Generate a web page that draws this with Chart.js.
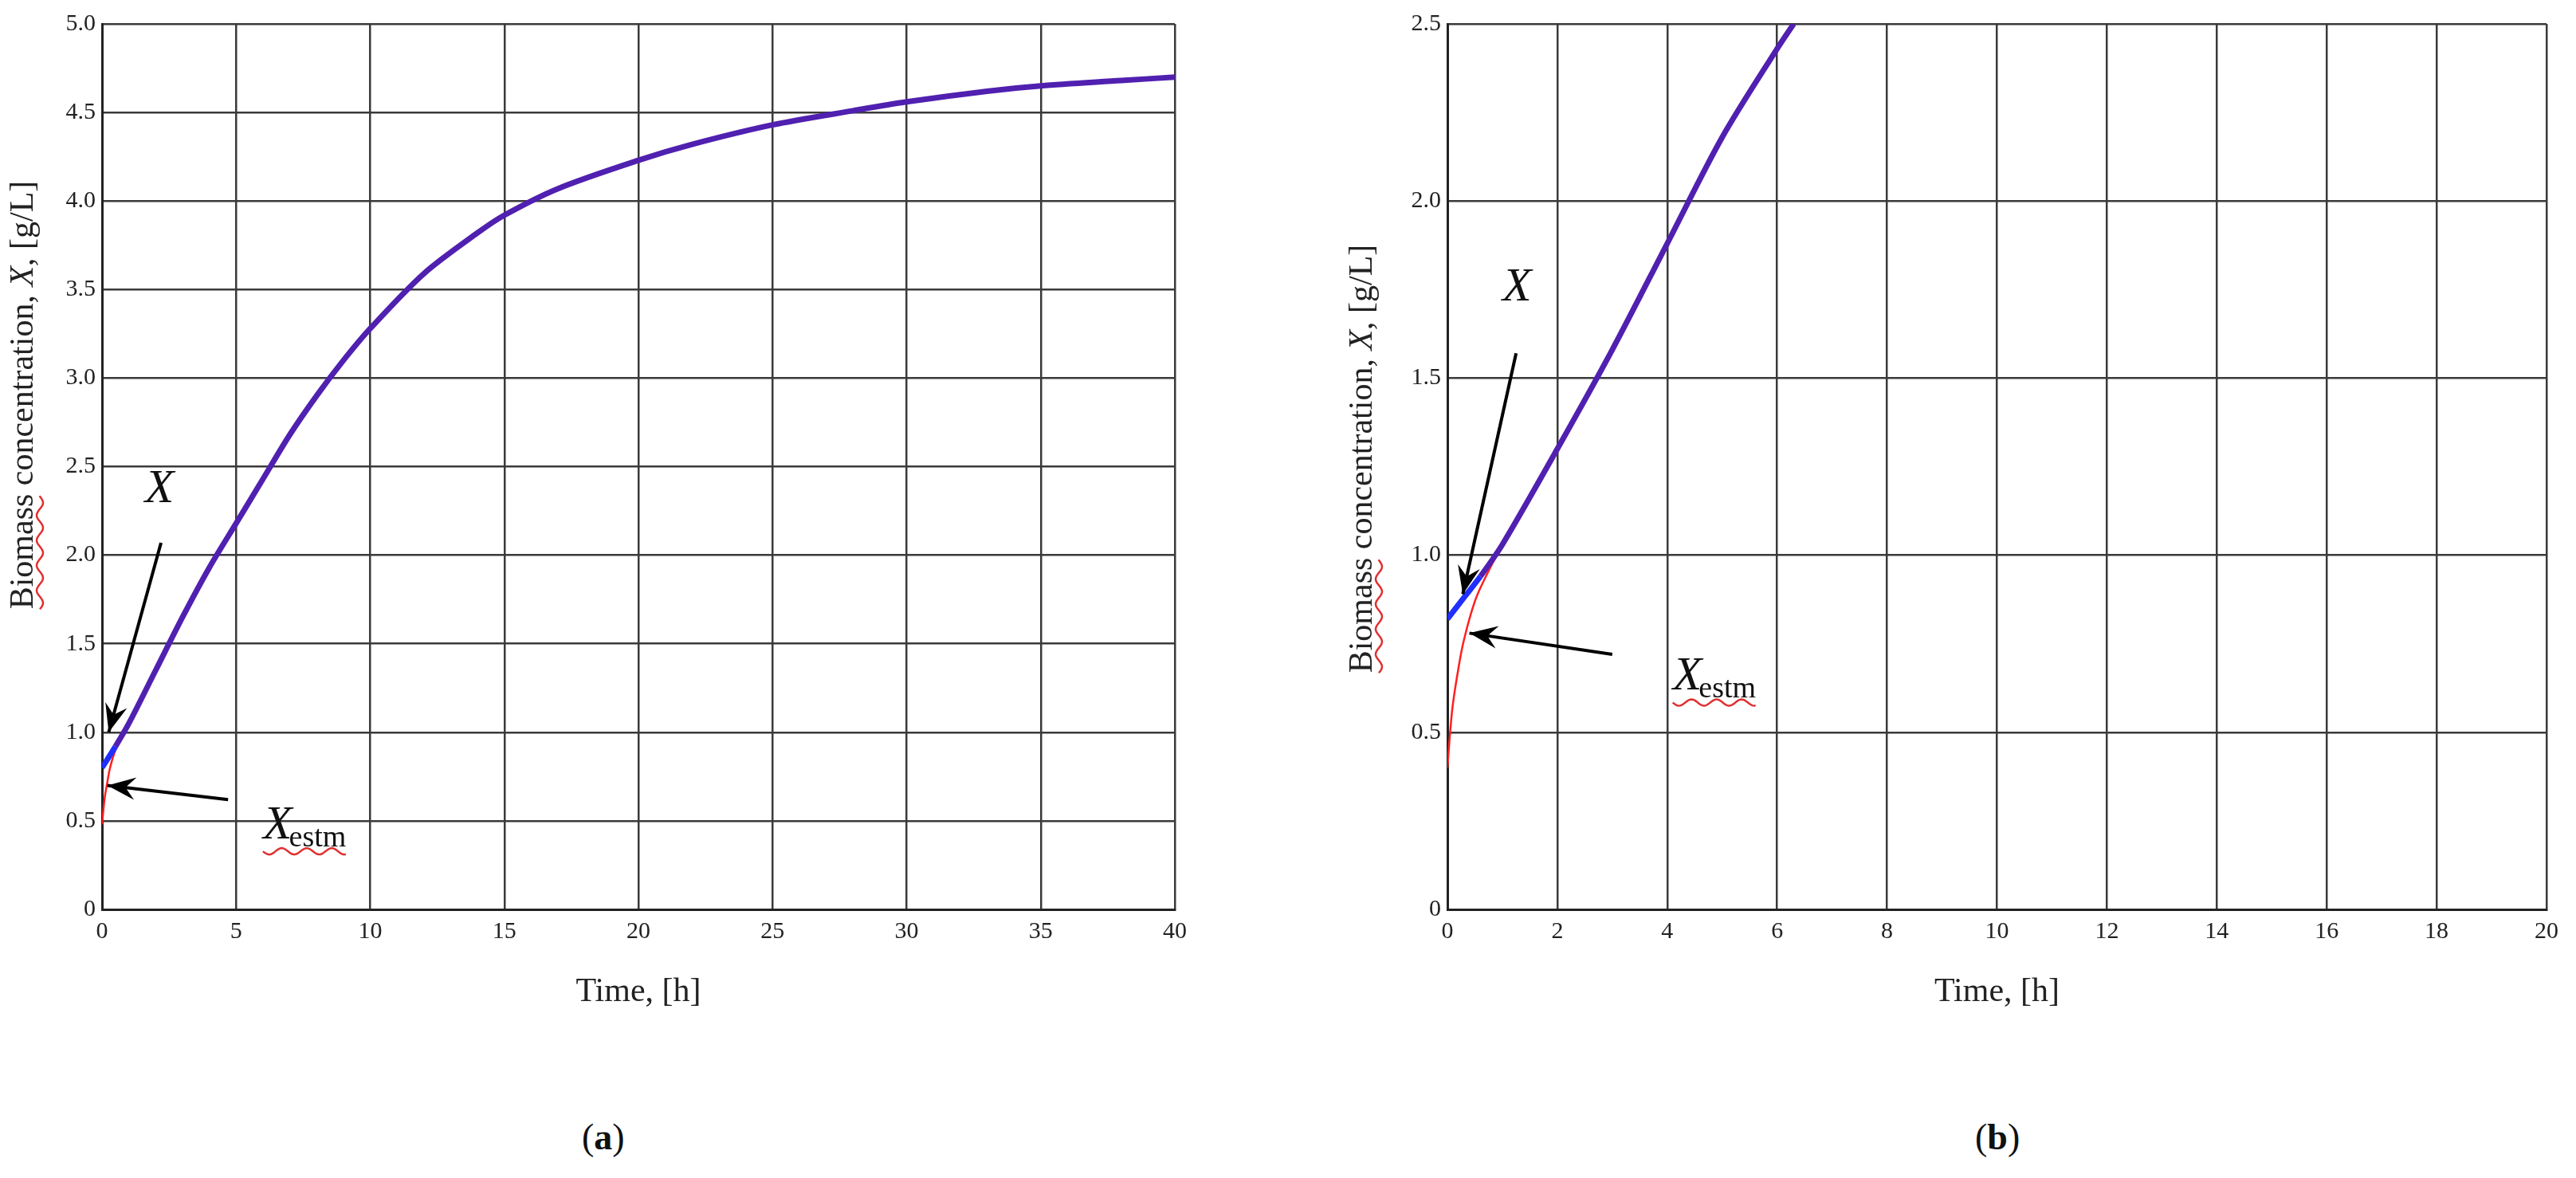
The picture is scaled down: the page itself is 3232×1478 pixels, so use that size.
<!DOCTYPE html>
<html><head><meta charset="utf-8">
<script src="https://cdn.jsdelivr.net/npm/chart.js@4"></script>
<style>
body{margin:0;background:#fff;width:3232px;height:1478px;position:relative;overflow:hidden;font-family:"Liberation Serif",serif}
.box{position:absolute;top:0;height:1300px}
.lab{position:absolute;font-size:46px;color:#111}
</style></head><body>
<div class="box" style="left:0;width:1500px"><canvas id="ca" width="1500" height="1300"></canvas></div>
<div class="box" style="left:1688px;width:1544px"><canvas id="cb" width="1544" height="1300"></canvas></div>
<div class="lab" style="left:730px;top:1400px">(<b>a</b>)</div>
<div class="lab" style="left:2478px;top:1400px">(<b>b</b>)</div>
<script>
// panel (a)
const timeA = [0,0.5,1,2,3,4,5,6,7,8,9,10,12,14,15,17,20,22,25,28,30,33,35,38,40];
const xA    = [0.8,0.92,1.05,1.35,1.65,1.93,2.18,2.43,2.68,2.9,3.1,3.28,3.59,3.82,3.92,4.07,4.23,4.32,4.43,4.51,4.56,4.62,4.65,4.68,4.7];
const timeEstA = [0,0.05,0.1,0.2,0.3,0.5,0.8,1];
const xEstA    = [0.48,0.56,0.63,0.72,0.8,0.9,1.0,1.05];
const yTicksA = [0,0.5,1,1.5,2,2.5,3,3.5,4,4.5,5];
const xTicksA = [0,5,10,15,20,25,30,35,40];
// panel (b)
const timeB = [0,0.3,0.6,1,2,3,4,5,6,6.3];
const xB    = [0.82,0.88,0.94,1.03,1.3,1.58,1.88,2.18,2.43,2.5];
const timeEstB = [0,0.05,0.1,0.2,0.3,0.5,0.7,1];
const xEstB    = [0.4,0.5,0.58,0.68,0.76,0.87,0.94,1.03];
const yTicksB = [0,0.5,1,1.5,2,2.5];
const xTicksB = [0,2,4,6,8,10,12,14,16,18,20];

const pts=(t,v)=>t.map((x,i)=>({x,y:v[i]}));
function arrow(ctx,x1,y1,x2,y2){
  ctx.save();ctx.strokeStyle='#000';ctx.fillStyle='#000';ctx.lineWidth=4;
  ctx.beginPath();ctx.moveTo(x1,y1);ctx.lineTo(x2,y2);ctx.stroke();
  const a=Math.atan2(y2-y1,x2-x1),L=38,W=0.38;
  ctx.beginPath();ctx.moveTo(x2,y2);
  ctx.lineTo(x2-L*Math.cos(a-W),y2-L*Math.sin(a-W));
  ctx.lineTo(x2-L*0.6*Math.cos(a),y2-L*0.6*Math.sin(a));
  ctx.lineTo(x2-L*Math.cos(a+W),y2-L*Math.sin(a+W));
  ctx.closePath();ctx.fill();ctx.restore();
}
function wavy(ctx,x1,x2,y){
  ctx.save();ctx.strokeStyle='#e03030';ctx.lineWidth=2.5;ctx.beginPath();
  for(let x=x1;x<=x2;x+=2){const yy=y+4*Math.sin((x-x1)/5);x===x1?ctx.moveTo(x,yy):ctx.lineTo(x,yy);}
  ctx.stroke();ctx.restore();
}
function make(id,cfg){
  const ann={id:'ann',afterDraw(ch){
    const c=ch.ctx,sx=ch.scales.x,sy=ch.scales.y,P=(x,y)=>[sx.getPixelForValue(x),sy.getPixelForValue(y)];
    c.save();
    let p=P(...cfg.xLab);c.font='italic 60px "Liberation Serif"';c.fillStyle='#111';c.textBaseline='alphabetic';c.fillText('X',p[0],p[1]);
    let a=P(...cfg.xArr[0]),b=P(...cfg.xArr[1]);arrow(c,a[0],a[1],b[0],b[1]);
    a=P(...cfg.eArr[0]);b=P(...cfg.eArr[1]);arrow(c,a[0],a[1],b[0],b[1]);
    p=P(...cfg.eLab);c.font='italic 60px "Liberation Serif"';c.fillText('X',p[0],p[1]);
    const w=c.measureText('X').width;c.font='38px "Liberation Serif"';c.fillText('estm',p[0]+w-4,p[1]+10);
    wavy(c,p[0],p[0]+w-4+c.measureText('estm').width,p[1]+16);
    c.restore();
    c.save();
    c.translate(cfg.yTitleX,(ch.chartArea.top+ch.chartArea.bottom)/2+cfg.yTitleDy);c.rotate(-Math.PI/2);
    c.textBaseline='middle';
    const parts=[['Biomass ','42px'],['concentration, ','42px'],['X','italic 42px'],[', [g/L]','42px']];
    let tot=0;parts.forEach(q=>{c.font=q[1]+' "Liberation Serif"';tot+=c.measureText(q[0]).width;});
    let x=-tot/2;
    parts.forEach((q,i)=>{c.font=q[1]+' "Liberation Serif"';c.fillStyle='#222';c.fillText(q[0],x,0);const ww=c.measureText(q[0]).width;
      if(i===0)wavy(c,x,x+ww-12,20);x+=ww;});
    c.restore();
    c.save();c.font='42px "Liberation Serif"';c.fillStyle='#222';c.textAlign='center';c.textBaseline='middle';
    c.fillText('Time, [h]',(ch.chartArea.left+ch.chartArea.right)/2,1245);c.restore();
  }};
  const grid={color:'#3a3a3a',lineWidth:2.5,tickLength:0,drawTicks:false};
  new Chart(document.getElementById(id),{type:'scatter',
    data:{datasets:[
      {data:pts(cfg.tx,cfg.vx),showLine:true,pointRadius:0,borderWidth:7,borderColor:'#5020b0',
       segment:{borderColor:s=>s.p0.parsed.x<cfg.blueTo?'#1f2fff':'#5020b0'},tension:0.3},
      {data:pts(cfg.te,cfg.ve),showLine:true,pointRadius:0,borderWidth:2.5,borderColor:'#ff2020',tension:0.4}
    ]},
    options:{responsive:false,animation:false,devicePixelRatio:1,
      layout:{padding:{top:30,right:cfg.padR,left:0,bottom:0}},
      plugins:{legend:{display:false},tooltip:{enabled:false}},
      scales:{
        x:{type:'linear',min:0,max:cfg.xmax,afterBuildTicks:s=>{s.ticks=cfg.xt.map(v=>({value:v}))},grid,border:{color:'#222',width:3},
           ticks:{font:{family:'Liberation Serif',size:30},color:'#222',padding:10,maxRotation:0},afterFit:s=>{s.height=159}},
        y:{min:0,max:cfg.ymax,afterBuildTicks:s=>{s.ticks=cfg.yt.map(v=>({value:v}))},grid,border:{color:'#222',width:3},
           ticks:{font:{family:'Liberation Serif',size:30},color:'#222',padding:8},afterFit:s=>{s.width=cfg.yw}}
      }},
    plugins:[ann]});
}
make('ca',{tx:timeA,vx:xA,te:timeEstA,ve:xEstA,xt:xTicksA,yt:yTicksA,xmax:40,ymax:5,padR:26,yw:128,blueTo:0.5,
  xLab:[1.6,2.3],xArr:[[2.2,2.07],[0.25,1.0]],eArr:[[4.7,0.62],[0.2,0.7]],eLab:[6.0,0.4],yTitleX:30,yTitleDy:-90});
make('cb',{tx:timeB,vx:xB,te:timeEstB,ve:xEstB,xt:xTicksB,yt:yTicksB,xmax:20,ymax:2.5,padR:37,yw:128,blueTo:0.6,
  xLab:[1.0,1.72],xArr:[[1.25,1.57],[0.28,0.89]],eArr:[[3.0,0.72],[0.4,0.78]],eLab:[4.1,0.62],yTitleX:22,yTitleDy:-10});
</script></body></html>
